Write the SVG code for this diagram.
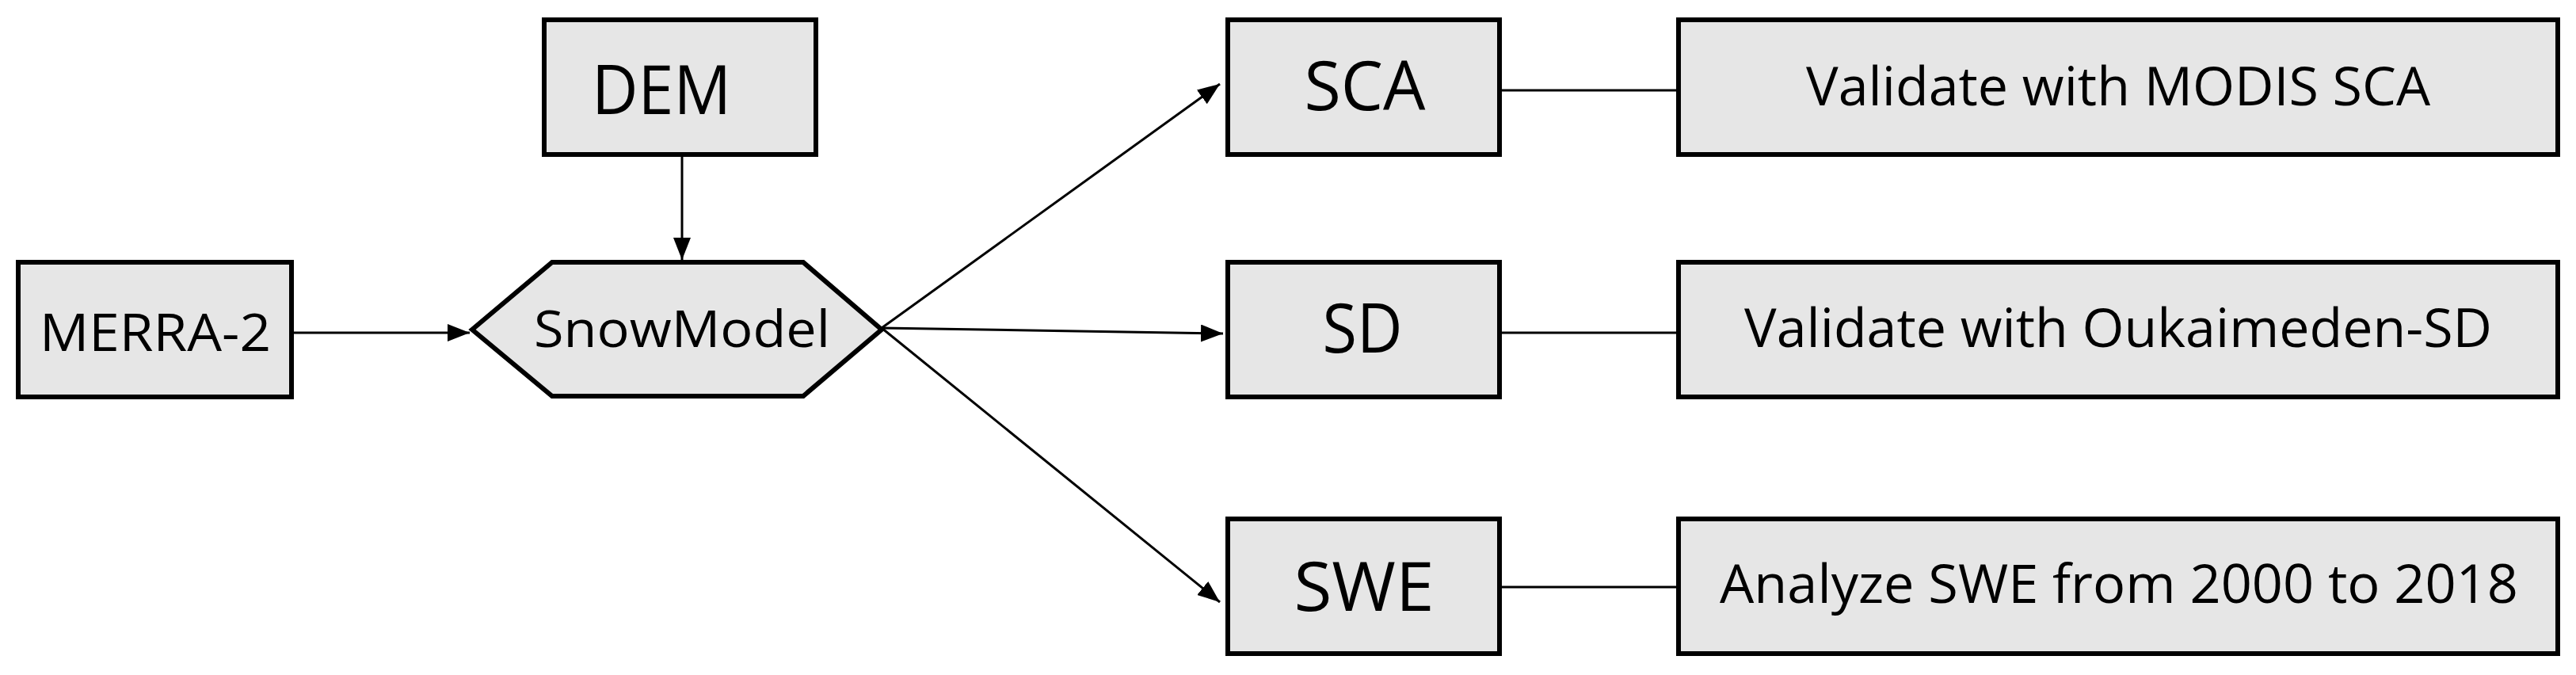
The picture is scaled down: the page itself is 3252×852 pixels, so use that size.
<svg xmlns="http://www.w3.org/2000/svg" width="3252" height="852" viewBox="0 0 3252 852">
<style>
.box{fill:#e6e6e6;stroke:#000;stroke-width:6}
.t{font-family:"Open Sans","Liberation Sans",sans-serif;fill:#000}
.c{stroke:#000;stroke-width:3;fill:none}
</style>
<defs><marker id="a" markerWidth="10" markerHeight="8" refX="10" refY="4" orient="auto" markerUnits="userSpaceOnUse" viewBox="0 0 10 8"><path d="M0,0 L10,4 L0,8 Z" fill="#000"/></marker>
<marker id="ah" viewBox="0 0 10 10" refX="10" refY="5" markerWidth="28" markerHeight="22" orient="auto" markerUnits="userSpaceOnUse" preserveAspectRatio="none"><path d="M0,0 L10,5 L0,10 Z" fill="#000"/></marker></defs>
<g id="connectors">
<line class="c" x1="861" y1="197" x2="861" y2="328" marker-end="url(#ah)"/>
<line class="c" x1="371" y1="420" x2="593" y2="420" marker-end="url(#ah)"/>
<line class="c" x1="1113" y1="414" x2="1540" y2="106" marker-end="url(#ah)"/>
<line class="c" x1="1113" y1="414" x2="1544" y2="421" marker-end="url(#ah)"/>
<line class="c" x1="1113" y1="414" x2="1540" y2="760" marker-end="url(#ah)"/>
<line class="c" x1="1896" y1="114" x2="2116" y2="114"/>
<line class="c" x1="1896" y1="420" x2="2116" y2="420"/>
<line class="c" x1="1896" y1="741" x2="2116" y2="741"/>
</g>
<g id="dem"><rect class="box" x="687" y="25" width="343" height="170"/><text class="t" x="835" y="144" font-size="86" text-anchor="middle" textLength="176" lengthAdjust="spacingAndGlyphs">DEM</text></g>
<g id="merra"><rect class="box" x="23" y="331" width="345" height="170"/><text class="t" x="196" y="443" font-size="66" text-anchor="middle" textLength="292" lengthAdjust="spacingAndGlyphs">MERRA-2</text></g>
<g id="snowmodel"><polygon class="box" points="596,416 697,331 1014,331 1113,416 1014,500 697,500"/><text class="t" x="861" y="438" font-size="64" text-anchor="middle" textLength="374" lengthAdjust="spacingAndGlyphs">SnowModel</text></g>
<g id="sca"><rect class="box" x="1550" y="25" width="343" height="170"/><text class="t" x="1723" y="139" font-size="86" text-anchor="middle" textLength="153" lengthAdjust="spacingAndGlyphs">SCA</text></g>
<g id="sd"><rect class="box" x="1550" y="331" width="343" height="170"/><text class="t" x="1720" y="445" font-size="86" text-anchor="middle" textLength="101" lengthAdjust="spacingAndGlyphs">SD</text></g>
<g id="swe"><rect class="box" x="1550" y="655" width="343" height="170"/><text class="t" x="1722" y="771" font-size="86" text-anchor="middle" textLength="177" lengthAdjust="spacingAndGlyphs">SWE</text></g>
<g id="v1"><rect class="box" x="2119" y="25" width="1110" height="170"/><text class="t" x="2674" y="133" font-size="68" text-anchor="middle" textLength="788" lengthAdjust="spacingAndGlyphs">Validate with MODIS SCA</text></g>
<g id="v2"><rect class="box" x="2119" y="331" width="1110" height="170"/><text class="t" x="2674" y="438" font-size="68" text-anchor="middle" textLength="944" lengthAdjust="spacingAndGlyphs">Validate with Oukaimeden-SD</text></g>
<g id="v3"><rect class="box" x="2119" y="655" width="1110" height="170"/><text class="t" x="2675" y="761" font-size="68" text-anchor="middle" textLength="1008" lengthAdjust="spacingAndGlyphs">Analyze SWE from 2000 to 2018</text></g>
</svg>
